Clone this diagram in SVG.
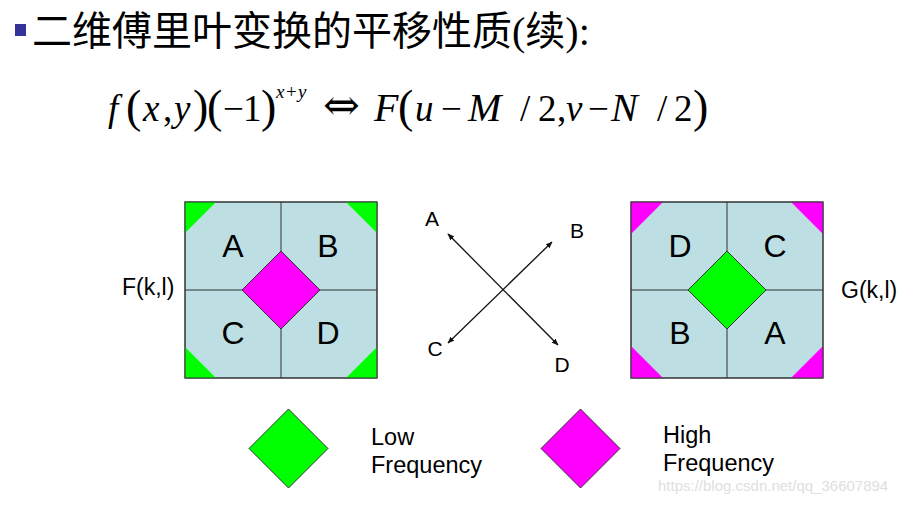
<svg xmlns="http://www.w3.org/2000/svg" width="910" height="505" viewBox="0 0 910 505">
<style>
.sans{font-family:"Liberation Sans",Arial,sans-serif;fill:#000}
.ser{font-family:"Liberation Serif","DejaVu Serif",serif;fill:#000}
.it{font-style:italic}
.cap{font-size:40px}
.box{fill:#bddfe3;stroke:#333;stroke-width:1}
.ln{stroke:#333;stroke-width:1;fill:none}
.g{fill:#00ff00;stroke:#333;stroke-width:1}
.m{fill:#ff00ff;stroke:#333;stroke-width:1}
.tri-g{fill:#00ff00;stroke:none}
.tri-m{fill:#ff00ff;stroke:none}
.arr{stroke:#111;stroke-width:1.3;fill:none;marker-start:url(#ah);marker-end:url(#ah)}
.lbl{font-size:32px;text-anchor:middle}
.al{font-size:21px;text-anchor:middle}
.leg{font-size:23.5px}
</style>
<defs>
<marker id="ah" viewBox="0 0 10 10" refX="9" refY="5" markerWidth="7" markerHeight="7" orient="auto-start-reverse" markerUnits="userSpaceOnUse">
<path d="M0,1 L10,5 L0,9 z" fill="#111"/>
</marker>
</defs>
<rect width="910" height="505" fill="#fff"/>

<g id="title">
<rect x="15" y="24" width="11" height="12" fill="#333399"/>
<text x="32" y="45" font-size="40" style="font-family:'Liberation Serif','Noto Sans CJK SC',serif;fill:#000">二维傅里叶变换的平移性质(续):</text>
</g>

<g id="formula" class="ser">
<text y="121" font-size="37"><tspan x="108" class="it">f</tspan><tspan x="143" class="it">x</tspan><tspan x="163">,</tspan><tspan x="174" class="it">y</tspan><tspan x="223">−</tspan><tspan x="243">1</tspan><tspan x="415" class="it">u</tspan><tspan x="441">−</tspan><tspan x="468" class="it cap">M</tspan><tspan x="520">/</tspan><tspan x="538">2</tspan><tspan x="557">,</tspan><tspan x="566" class="it">v</tspan><tspan x="588">−</tspan><tspan x="611" class="it cap">N</tspan><tspan x="657">/</tspan><tspan x="674">2</tspan></text>
<text x="374" y="121" font-size="40" class="it">F</text>
<text x="323" y="120" font-size="44" style="font-family:'DejaVu Serif',serif">⇔</text>
<text y="98" font-size="19" class="it"><tspan x="276">x</tspan><tspan x="286" style="font-style:normal">+</tspan><tspan x="298">y</tspan></text>
<text y="122" font-size="46"><tspan x="126">(</tspan><tspan x="193">)</tspan><tspan x="207">(</tspan><tspan x="261">)</tspan><tspan x="398">(</tspan><tspan x="693">)</tspan></text>
</g>

<g id="F-box">
<rect class="box" x="185" y="202" width="192" height="176"/>
<path class="tri-g" d="M185,202 L216,202 L185,233 Z"/>
<path class="tri-g" d="M346,202 L377,202 L377,233 Z"/>
<path class="tri-g" d="M185,347 L185,378 L216,378 Z"/>
<path class="tri-g" d="M377,347 L377,378 L346,378 Z"/>
<rect x="185" y="202" width="192" height="176" fill="none" stroke="#333"/>
<path class="ln" d="M281,202 V378 M185,290 H377"/>
<path class="m" d="M242,290 L281,251 L320,290 L281,329 Z"/>
<text class="sans lbl" x="233" y="257">A</text>
<text class="sans lbl" x="328" y="257">B</text>
<text class="sans lbl" x="233" y="344">C</text>
<text class="sans lbl" x="328" y="344">D</text>
<text class="sans" x="122" y="295" font-size="23">F(k,l)</text>
</g>

<g id="G-box">
<rect class="box" x="631" y="202" width="192" height="176"/>
<path class="tri-m" d="M631,202 L663,202 L631,234 Z"/>
<path class="tri-m" d="M791,202 L823,202 L823,234 Z"/>
<path class="tri-m" d="M631,346 L631,378 L663,378 Z"/>
<path class="tri-m" d="M823,346 L823,378 L791,378 Z"/>
<rect x="631" y="202" width="192" height="176" fill="none" stroke="#333"/>
<path class="ln" d="M727,202 V378 M631,290 H823"/>
<path class="g" d="M688,290 L727,251 L766,290 L727,329 Z"/>
<text class="sans lbl" x="680" y="257">D</text>
<text class="sans lbl" x="775" y="257">C</text>
<text class="sans lbl" x="680" y="344">B</text>
<text class="sans lbl" x="775" y="344">A</text>
<text class="sans" x="841" y="298" font-size="23">G(k,l)</text>
</g>

<g id="connectors">
<line class="arr" x1="448" y1="234" x2="558" y2="345"/>
<line class="arr" x1="552" y1="242" x2="448" y2="343"/>
</g>
<g id="arrow-labels">
<text class="sans al" x="432" y="226">A</text>
<text class="sans al" x="577" y="238">B</text>
<text class="sans al" x="435" y="356">C</text>
<text class="sans al" x="562" y="372">D</text>
</g>

<g id="legend-low">
<path class="g" d="M249,448.5 L288.5,409 L328,448.5 L288.5,488 Z"/>
<text class="sans leg" x="371" y="445">Low</text>
<text class="sans leg" x="371" y="473">Frequency</text>
</g>
<g id="legend-high">
<path class="m" d="M541,448.5 L580.5,409 L620,448.5 L580.5,488 Z"/>
<text class="sans leg" x="663" y="443">High</text>
<text class="sans leg" x="663" y="471">Frequency</text>
</g>
<text class="sans" x="658" y="491" font-size="15" style="fill:#e0e0e0">https://blog.csdn.net/qq_36607894</text>
</svg>
